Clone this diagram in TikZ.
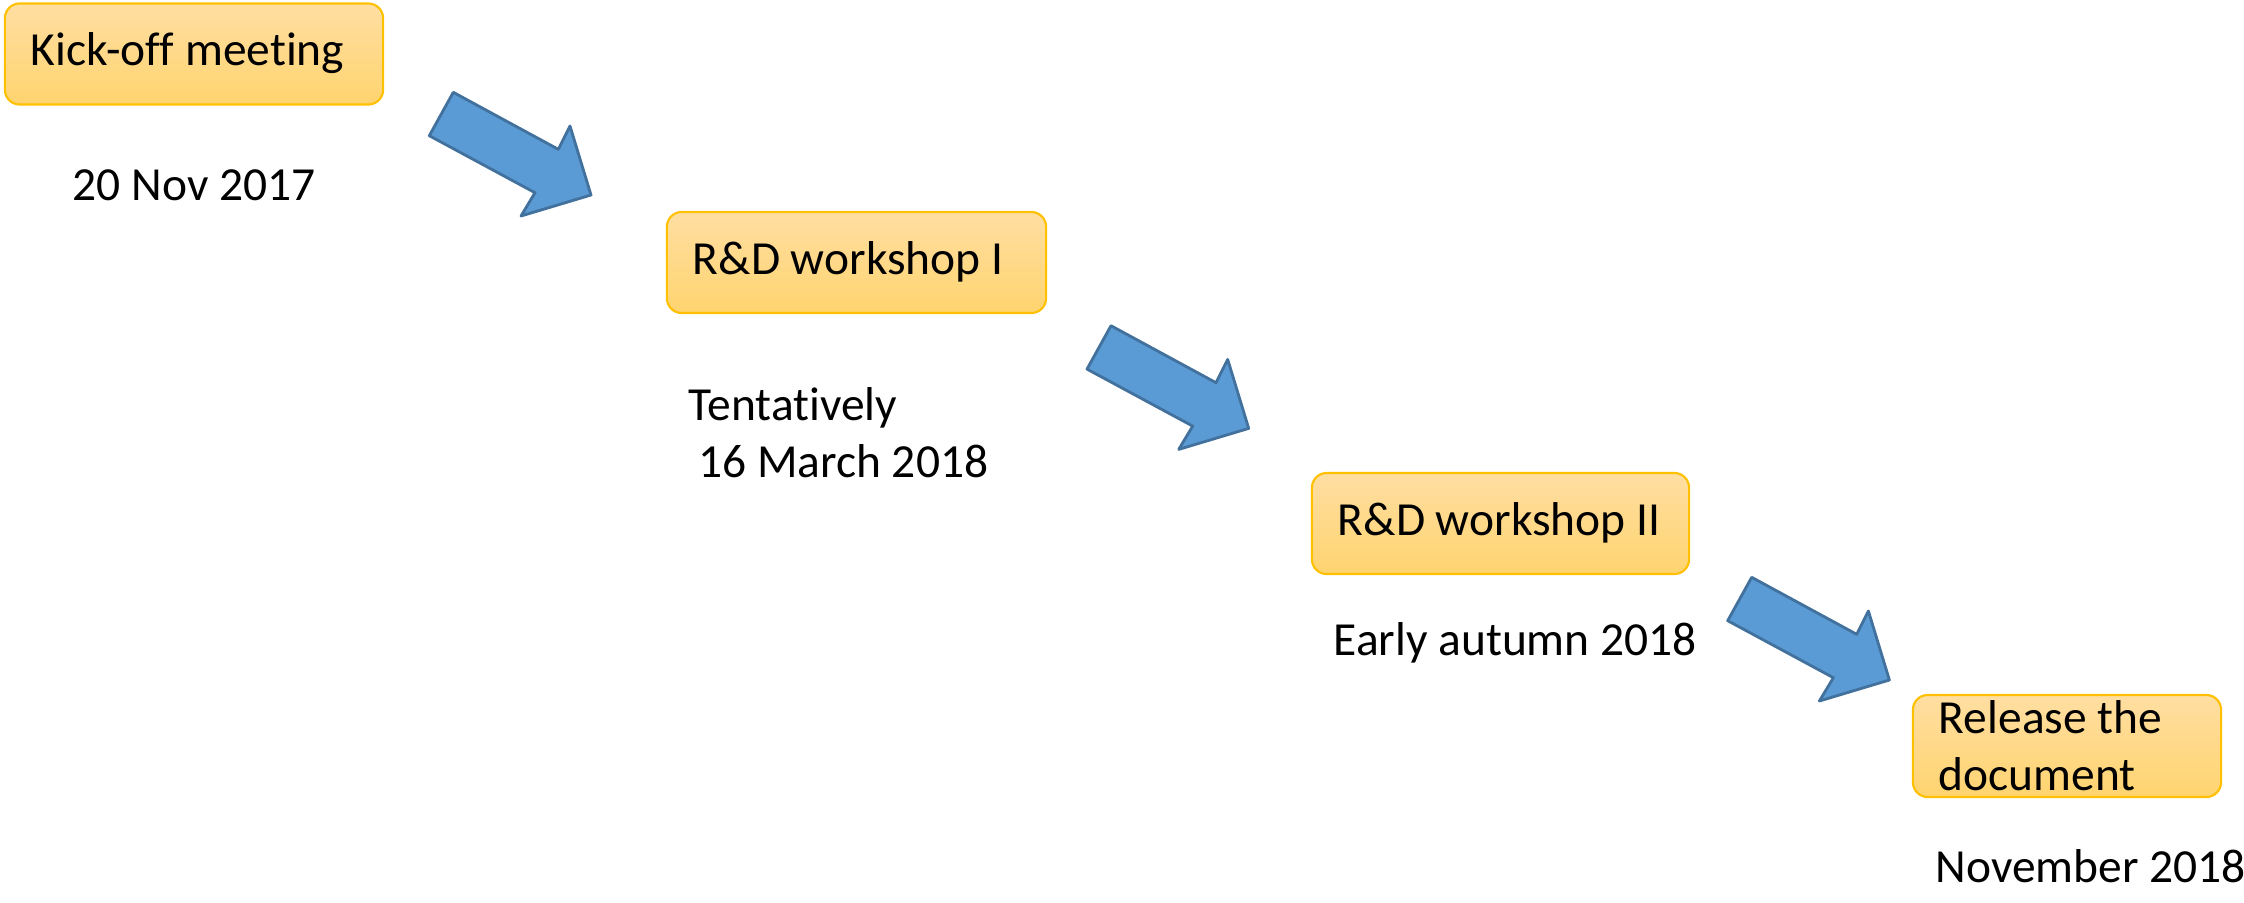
\documentclass[tikz,border=0pt]{standalone}
\usepackage{fontspec}
\setmainfont{Carlito}[Ligatures=NoCommon]
\definecolor{boxtop}{HTML}{FFDEA2}
\definecolor{boxbot}{HTML}{FFD46F}
\definecolor{boxline}{HTML}{FFC000}
\definecolor{arrfill}{HTML}{5B9BD5}
\definecolor{arrline}{HTML}{41719C}
\begin{document}
\begin{tikzpicture}[x=0.01cm, y=-0.01cm, line join=round, font=\fontsize{13.5}{16.2}\selectfont,
		box/.style={draw=boxline, line width=0.6pt, rounded corners=4.2pt, top color=boxtop, bottom color=boxbot, minimum height=1.01cm, inner xsep=0.26cm, inner ysep=0pt, align=flush left},
		onerow/.style={text height=0.9em, text depth=0.22em},
		date/.style={anchor=base west, inner sep=0pt, align=flush left},
		steparrow/.pic={\draw[fill=arrfill, draw=arrline, line width=0.8pt] (0,0)--(-24,43.4)--(81.7,100.4)--(67.7,123.7)--(137.7,102.7)--(116.7,33.7)--(105,57)--cycle;}]
	\useasboundingbox (0,0) rectangle (2244,902);
	% stages
	\node[box, onerow, text width=3.26cm] (kickoff) at (194,54) {Kick-off meeting};
	\node[box, onerow, text width=3.27cm] (workshopI) at (856.5,262.5) {R\&D workshop I};
	\node[box, onerow, text width=3.25cm] (workshopII) at (1500.5,523.5) {R\&D~workshop~II};
	\node[box, text width=2.56cm, minimum height=1.02cm] (release) at (2067,746) {Release the\\document};
	% dates
	\node[date] (kickoffdate) at (72,200) {20 Nov 2017};
	\node[date] (workshopIdate) at (688,477) {Tentatively\\\hspace*{0.2em}16 March 2018};
	\node[date] (workshopIIdate) at (1333,655) {Early autumn 2018};
	\node[date] (releasedate) at (1935,882) {November 2018};
	% arrows
	\foreach \x/\y in {453.3/92.3, 1111/325.7, 1751.7/577.3} \pic at (\x,\y) {steparrow};
\end{tikzpicture}
\end{document}
